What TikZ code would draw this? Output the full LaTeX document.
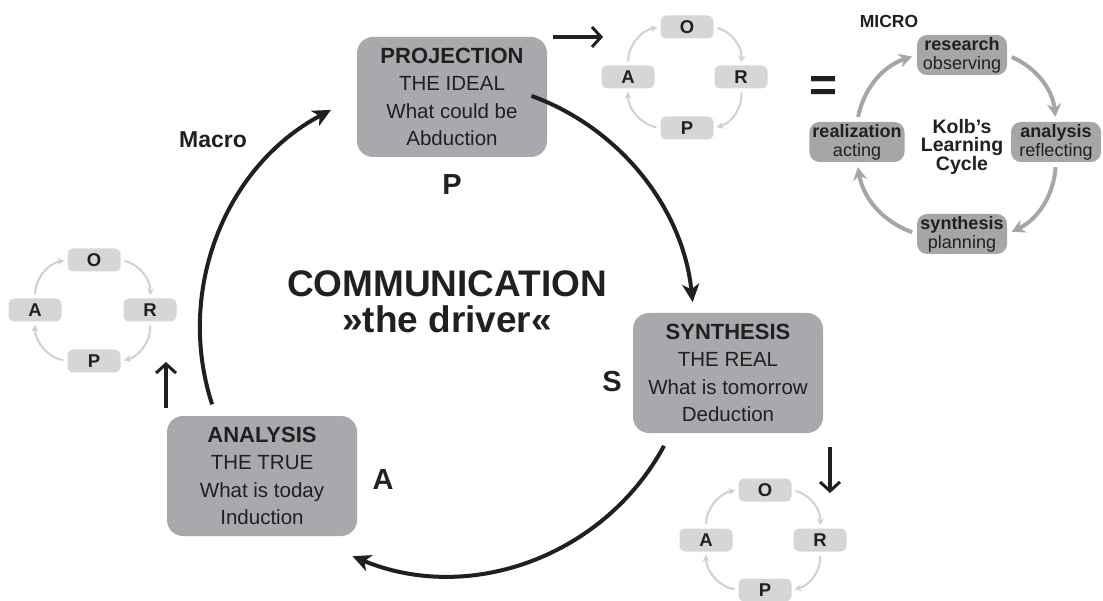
\documentclass[tikz,border=0pt]{standalone}
\usepackage{fontspec}
\setmainfont{Liberation Sans}
\usetikzlibrary{arrows.meta}

\begin{document}
\begin{tikzpicture}[x=1pt, y=-1pt,
  phase/.style={fill=boxgray, rounded corners=16pt, minimum width=190pt, minimum height=120pt,
    inner sep=0pt, align=center, text=txt, font=\fontsize{20.5}{27.5}\selectfont},
  letter/.style={text=txt, font=\fontsize{29}{30}\selectfont\bfseries},
  oarp/.style={fill=oarpgray, rounded corners=6pt, minimum width=53pt, minimum height=23pt,
    inner sep=0pt, text=txt, font=\fontsize{18.5}{19}\selectfont\bfseries},
  oarpflow/.style={draw=flowgray, line width=2pt, shorten <=4pt, shorten >=3pt,
    -{Stealth[length=7pt,width=7pt]}},
  kolb/.style={fill=kolbgray, rounded corners=10pt, minimum width=90pt, minimum height=40pt,
    inner xsep=3pt, inner ysep=0pt, align=center, text=txt, font=\fontsize{18}{19}\selectfont},
  kolbflow/.style={draw=kolbgray, line width=4pt, shorten <=5pt, shorten >=5pt,
    -{Stealth[length=13pt,width=14pt]}},
  bigarc/.style={draw=txt, line width=4pt, -{Stealth[length=18pt,width=17pt,inset=5pt]}},
  hint/.style={draw=txt, line width=4.5pt, -{Straight Barb[length=9pt,width=20pt,line width=3pt]}}
]
\definecolor{txt}{HTML}{231F20}
\definecolor{boxgray}{HTML}{A7A9AC}
\definecolor{oarpgray}{HTML}{D5D6D8}
\definecolor{flowgray}{HTML}{CFD0D2}
\definecolor{kolbgray}{HTML}{A5A6A8}
\useasboundingbox (0,0) rectangle (1103,601);

% macro cycle
\coordinate (mid) at (447,328);
\node[phase] (proj) at (452,97) {{\fontsize{22}{27.5}\selectfont\bfseries PROJECTION}\\THE IDEAL\\What could be\\Abduction};
\node[phase] (syn) at (728,373) {{\fontsize{22}{27.5}\selectfont\bfseries SYNTHESIS}\\THE REAL\\What is tomorrow\\Deduction};
\node[phase] (ana) at (262,476) {{\fontsize{22}{27.5}\selectfont\bfseries ANALYSIS}\\THE TRUE\\What is today\\Induction};
\node[letter] (lp) at (452,185) {P};
\node[letter] (ls) at (612,382) {S};
\node[letter] (la) at (383,480) {A};
\node[text=txt, font=\fontsize{23}{24}\selectfont\bfseries] (macro) at (213,140) {Macro};
\node[text=txt, align=center, font=\fontsize{37}{36}\selectfont\bfseries] (comm) at (447,302) {COMMUNICATION\\»the driver«};
\draw[bigarc] (mid) ++(162:247) arc[start angle=162, end angle=242, radius=247];
\draw[bigarc] (mid) ++(290:247) arc[start angle=290, end angle=354, radius=247];
\draw[bigarc] (mid) ++(28.5:247) arc[start angle=28.5, end angle=112.5, radius=247];

% small cycle at projection
\node[oarp] (o1) at (687,27) {O};
\node[oarp] (r1) at (741,77) {R};
\node[oarp] (p1) at (687,128) {P};
\node[oarp] (a1) at (628,77) {A};
\draw[oarpflow] (o1.east) to[bend left=40] (r1.north);
\draw[oarpflow] (r1.south) to[bend left=40] (p1.east);
\draw[oarpflow] (p1.west) to[bend left=40] (a1.south);
\draw[oarpflow] (a1.north) to[bend left=40] (o1.west);

% small cycle at analysis
\node[oarp] (o2) at (94,260) {O};
\node[oarp] (r2) at (150,310) {R};
\node[oarp] (p2) at (94,361) {P};
\node[oarp] (a2) at (35,310) {A};
\draw[oarpflow] (o2.east) to[bend left=40] (r2.north);
\draw[oarpflow] (r2.south) to[bend left=40] (p2.east);
\draw[oarpflow] (p2.west) to[bend left=40] (a2.south);
\draw[oarpflow] (a2.north) to[bend left=40] (o2.west);

% small cycle at synthesis
\node[oarp] (o3) at (765,490) {O};
\node[oarp] (r3) at (820,540) {R};
\node[oarp] (p3) at (765,590) {P};
\node[oarp] (a3) at (706,540) {A};
\draw[oarpflow] (o3.east) to[bend left=40] (r3.north);
\draw[oarpflow] (r3.south) to[bend left=40] (p3.east);
\draw[oarpflow] (p3.west) to[bend left=40] (a3.south);
\draw[oarpflow] (a3.north) to[bend left=40] (o3.west);

% pointers to the small cycles
\coordinate (h1a) at (553,37);
\coordinate (h1b) at (603,37);
\coordinate (h2a) at (166,408);
\coordinate (h2b) at (166,362);
\coordinate (h3a) at (830,447);
\coordinate (h3b) at (830,493);
\draw[hint] (h1a) -- (h1b);
\draw[hint] (h2a) -- (h2b);
\draw[hint] (h3a) -- (h3b);
\node[text=txt, font=\fontsize{48}{48}\selectfont\bfseries] (eq) at (824,89) {=};

% Kolb (micro)
\node[text=txt, font=\fontsize{17.5}{18}\selectfont\bfseries] (micro) at (889,21) {MICRO};
\node[kolb] (research) at (962,55) {\textbf{research}\\observing};
\node[kolb] (analysis) at (1056,142) {\textbf{analysis}\\reflecting};
\node[kolb] (synthesis) at (962,234) {\textbf{synthesis}\\planning};
\node[kolb] (realization) at (857,142) {\textbf{realization}\\acting};
\node[text=txt, align=center, font=\fontsize{19.5}{17.5}\selectfont\bfseries] (kolbname) at (962,147) {Kolb’s\\Learning\\Cycle};
\draw[kolbflow] (research.east) to[bend left=30] (analysis.north);
\draw[kolbflow] (analysis.south) to[bend left=30] (synthesis.east);
\draw[kolbflow] (synthesis.west) to[bend left=30] (realization.south);
\draw[kolbflow] (realization.north) to[bend left=30] (research.west);
\end{tikzpicture}
\end{document}
